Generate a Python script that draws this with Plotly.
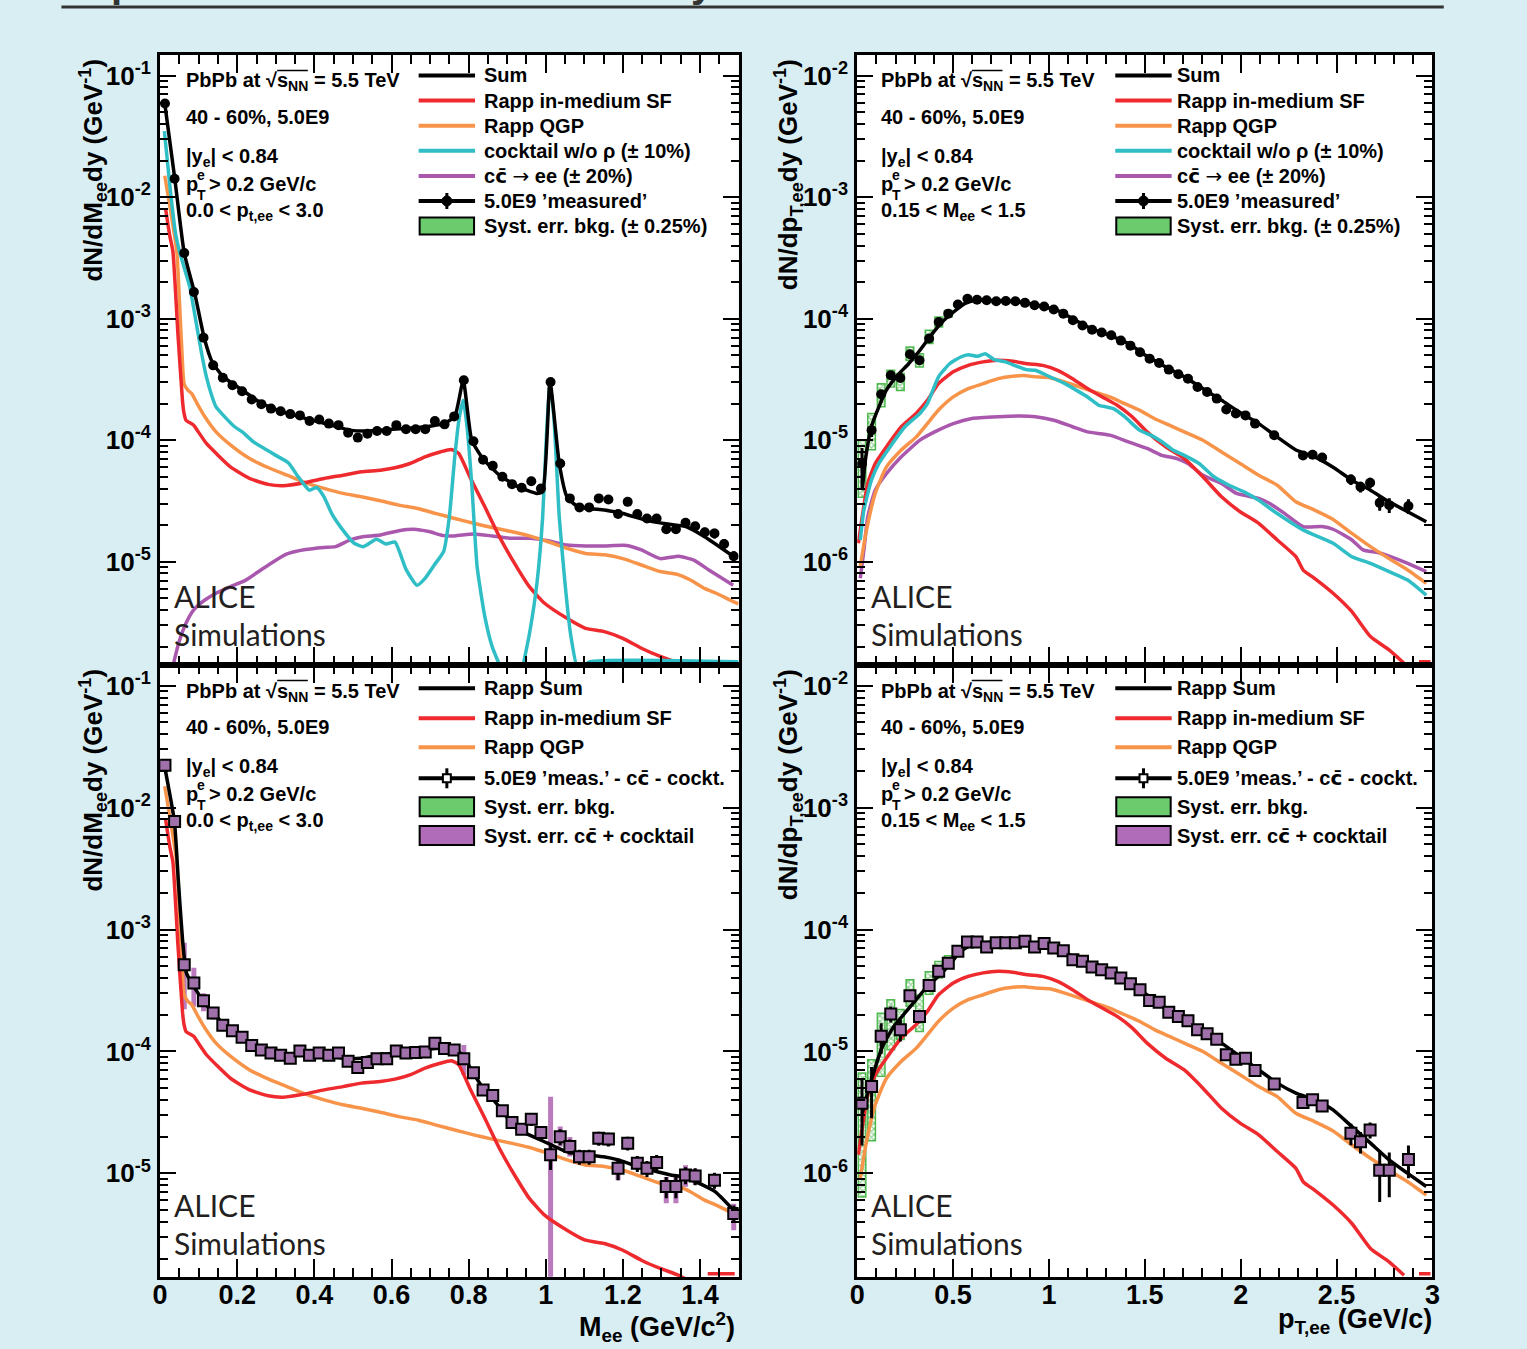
import plotly.graph_objects as go

W, H = 1527, 1349

# ======================= DATA =======================
mass_bins = [0.0125, 0.0375, 0.0625, 0.0875, 0.1125, 0.1375, 0.1625, 0.1875, 0.2125, 0.2375,
             0.2625, 0.2875, 0.3125, 0.3375, 0.3625, 0.3875, 0.4125, 0.4375, 0.4625, 0.4875,
             0.5125, 0.5375, 0.5625, 0.5875, 0.6125, 0.6375, 0.6625, 0.6875, 0.7125, 0.7375,
             0.7625, 0.7875, 0.8125, 0.8375, 0.8625, 0.8875, 0.9125, 0.9375, 0.9625, 0.9875,
             1.0125, 1.0375, 1.0625, 1.0875, 1.1125, 1.1375, 1.1625, 1.1875, 1.2125, 1.2375,
             1.2625, 1.2875, 1.3125, 1.3375, 1.3625, 1.3875, 1.4125, 1.4375, 1.4625, 1.4875]
pt_bins = [0.025, 0.075, 0.125, 0.175, 0.225, 0.275, 0.325, 0.375, 0.425, 0.475,
           0.525, 0.575, 0.625, 0.675, 0.725, 0.775, 0.825, 0.875, 0.925, 0.975,
           1.025, 1.075, 1.125, 1.175, 1.225, 1.275, 1.325, 1.375, 1.425, 1.475,
           1.525, 1.575, 1.625, 1.675, 1.725, 1.775, 1.825, 1.875, 1.925, 1.975,
           2.025, 2.075, 2.125, 2.175, 2.225, 2.275, 2.325, 2.375, 2.425, 2.475,
           2.525, 2.575, 2.625, 2.675, 2.725, 2.775, 2.825, 2.875, 2.925, 2.975]

# --- top-left: invariant mass, 'measured' and components ---
meas_mass = [5.9e-2, 1.42e-2, 3.47e-3, 1.66e-3, 6.98e-4, 4.13e-4, 3.27e-4, 2.83e-4, 2.53e-4, 2.16e-4,
             1.98e-4, 1.82e-4, 1.73e-4, 1.64e-4, 1.60e-4, 1.44e-4, 1.48e-4, 1.37e-4, 1.33e-4, 1.15e-4,
             1.05e-4, 1.13e-4, 1.19e-4, 1.19e-4, 1.33e-4, 1.23e-4, 1.23e-4, 1.23e-4, 1.44e-4, 1.35e-4,
             1.57e-4, 3.11e-4, 9.8e-5, 6.9e-5, 6.15e-5, 5.0e-5, 4.35e-5, 4.06e-5, 4.6e-5, 4.0e-5,
             3.01e-4, 6.43e-5, 3.32e-5, 2.80e-5, 2.80e-5, 3.32e-5, 3.25e-5, 2.47e-5, 3.11e-5, 2.47e-5,
             2.27e-5, 2.27e-5, 1.85e-5, 1.85e-5, 2.09e-5, 1.96e-5, 1.75e-5, 1.71e-5, 1.4e-5, 1.11e-5]
meas_mass_stat = [0.02, 0.02, 0.02, 0.02, 0.02, 0.02, 0.02, 0.02, 0.02, 0.02,
                  0.02, 0.02, 0.02, 0.02, 0.02, 0.02, 0.02, 0.02, 0.02, 0.02,
                  0.03, 0.03, 0.03, 0.03, 0.03, 0.03, 0.03, 0.03, 0.03, 0.03,
                  0.03, 0.02, 0.04, 0.04, 0.05, 0.05, 0.05, 0.05, 0.05, 0.05,
                  0.02, 0.05, 0.06, 0.06, 0.06, 0.06, 0.06, 0.07, 0.07, 0.07,
                  0.07, 0.07, 0.08, 0.08, 0.08, 0.08, 0.09, 0.09, 0.10, 0.10]
sum_mass_x = [0.012, 0.038, 0.0625, 0.09, 0.114, 0.135, 0.164, 0.213, 0.261, 0.309, 0.377, 0.435,
              0.493, 0.532, 0.590, 0.668, 0.735, 0.764, 0.786, 0.808, 0.837, 0.880, 0.929, 0.977,
              0.992, 1.011, 1.035, 1.055, 1.084, 1.152, 1.200, 1.258, 1.316, 1.365, 1.413, 1.486]
sum_mass_y = [5.9e-2, 1.42e-2, 3.47e-3, 1.6e-3, 7.0e-4, 4.4e-4, 3.32e-4, 2.58e-4, 2.03e-4, 1.74e-4,
              1.51e-4, 1.35e-4, 1.21e-4, 1.19e-4, 1.22e-4, 1.27e-4, 1.37e-4, 1.57e-4, 3.08e-4, 1.0e-4,
              7.06e-5, 5.15e-5, 4.13e-5, 3.65e-5, 3.76e-5, 3.01e-4, 6.43e-5, 3.42e-5, 2.83e-5, 2.66e-5,
              2.49e-5, 2.2e-5, 2.04e-5, 1.94e-5, 1.60e-5, 1.11e-5]
rapp_sf_mass_x = [0.014, 0.025, 0.033, 0.046, 0.058, 0.062, 0.067, 0.087, 0.096, 0.120, 0.145, 0.183,
                  0.232, 0.280, 0.319, 0.377, 0.425, 0.474, 0.522, 0.571, 0.609, 0.648, 0.687, 0.726,
                  0.755, 0.774, 0.803, 0.842, 0.880, 0.919, 0.958, 0.997, 1.055, 1.103, 1.152, 1.200,
                  1.248, 1.297, 1.345, 1.374, 1.395, 1.42, 1.49]
rapp_sf_mass_y = [8.1e-3, 4.8e-3, 3.6e-3, 7.6e-4, 2.1e-4, 1.66e-4, 1.46e-4, 1.33e-4, 1.21e-4, 9.4e-5,
                  7.8e-5, 6.0e-5, 4.84e-5, 4.33e-5, 4.22e-5, 4.49e-5, 4.84e-5, 5.15e-5, 5.5e-5, 5.66e-5,
                  5.93e-5, 6.43e-5, 7.3e-5, 8.0e-5, 8.4e-5, 7.8e-5, 5.0e-5, 2.83e-5, 1.60e-5, 9.7e-6,
                  6.2e-6, 4.55e-6, 3.42e-6, 2.83e-6, 2.66e-6, 2.34e-6, 1.94e-6, 1.66e-6, 1.46e-6, 1.3e-6,
                  None, 1.5e-6, 1.5e-6]
rapp_qgp_mass_x = [0.012, 0.043, 0.050, 0.0575, 0.062, 0.072, 0.082, 0.096, 0.116, 0.145, 0.183, 0.232,
                   0.280, 0.329, 0.377, 0.425, 0.474, 0.522, 0.571, 0.619, 0.668, 0.716, 0.764, 0.813,
                   0.861, 0.910, 0.958, 1.006, 1.055, 1.103, 1.152, 1.200, 1.248, 1.297, 1.345, 1.374,
                   1.413, 1.442, 1.486, 1.5]
rapp_qgp_mass_y = [1.5e-2, 3.6e-3, 1.41e-3, 4.6e-4, 2.92e-4, 2.58e-4, 2.42e-4, 2.0e-4, 1.56e-4, 1.17e-4,
                   9.1e-5, 7.06e-5, 5.96e-5, 5.15e-5, 4.46e-5, 4.01e-5, 3.65e-5, 3.42e-5, 3.17e-5, 2.92e-5,
                   2.74e-5, 2.49e-5, 2.27e-5, 2.07e-5, 1.91e-5, 1.77e-5, 1.63e-5, 1.46e-5, 1.29e-5, 1.17e-5,
                   1.14e-5, 1.06e-5, 9.4e-6, 8.3e-6, 7.8e-6, 7.1e-6, 6.0e-6, 5.5e-6, 4.7e-6, 4.5e-6]
cocktail_mass_x = [0.011, 0.025, 0.040, 0.050, 0.062, 0.077, 0.091, 0.106, 0.120, 0.135, 0.145, 0.164,
                   0.193, 0.213, 0.242, 0.271, 0.300, 0.333, 0.358, 0.387, 0.406, 0.425, 0.445, 0.474,
                   0.503, 0.527, 0.561, 0.585, 0.609, 0.638, 0.666, 0.687, 0.711, 0.735, 0.750, 0.764,
                   0.776, 0.786, 0.795, 0.808, 0.822, 0.842, 0.861, 0.885, 0.91, 0.939, 0.958, 0.977,
                   0.992, 1.002, 1.011, 1.021, 1.035, 1.050, 1.064, 1.084, 1.113, 1.5]
cocktail_mass_y = [3.5e-2, 1.26e-2, 5.0e-3, 3.6e-3, 2.66e-3, 1.82e-3, 1.03e-3, 5.5e-4, 3.32e-4, 2.27e-4,
                   1.88e-4, 1.60e-4, 1.29e-4, 1.17e-4, 9.7e-5, 8.5e-5, 7.5e-5, 6.5e-5, 5.0e-5, 3.88e-5,
                   4.08e-5, 3.42e-5, 2.49e-5, 1.82e-5, 1.42e-5, 1.33e-5, 1.53e-5, 1.40e-5, 1.45e-5, 8.6e-6,
                   6.4e-6, 7.3e-6, 9.4e-6, 1.21e-5, 2.34e-5, 7.3e-5, 1.56e-4, 2.13e-4, 1.37e-4, 4.4e-5,
                   9.1e-6, 3.53e-6, 2.0e-6, 1.3e-6, None, 1.3e-6, 2.58e-6, 6.6e-6, 2.34e-5, 1.13e-4,
                   2.92e-4, 1.56e-4, 2.34e-5, 6.6e-6, 2.58e-6, 1.3e-6, 1.5e-6, 1.5e-6]
ccbar_mass_x = [0.034, 0.048, 0.067, 0.087, 0.116, 0.145, 0.183, 0.222, 0.261, 0.300, 0.329, 0.377,
                0.425, 0.455, 0.493, 0.522, 0.571, 0.619, 0.658, 0.697, 0.735, 0.764, 0.813, 0.861,
                0.910, 0.958, 1.006, 1.055, 1.103, 1.152, 1.210, 1.248, 1.297, 1.345, 1.384, 1.423,
                1.452, 1.486]
ccbar_mass_y = [1.42e-6, 2.13e-6, 3.11e-6, 4.01e-6, 4.84e-6, 5.5e-6, 6.24e-6, 7.06e-6, 8.55e-6, 1.03e-5,
                1.16e-5, 1.26e-5, 1.31e-5, 1.33e-5, 1.51e-5, 1.60e-5, 1.66e-5, 1.80e-5, 1.85e-5, 1.77e-5,
                1.64e-5, 1.63e-5, 1.69e-5, 1.63e-5, 1.56e-5, 1.56e-5, 1.49e-5, 1.37e-5, 1.35e-5, 1.35e-5,
                1.36e-5, 1.25e-5, 1.06e-5, 1.11e-5, 1.03e-5, 8.55e-6, 7.5e-6, 6.4e-6]

# --- top-right: pair pT, 'measured' and components ---
meas_pt = [6.4e-6, 1.21e-5, 2.39e-5, 3.42e-5, 3.25e-5, 5.09e-5, 4.55e-5, 6.86e-5, 9.4e-5, 1.10e-4,
           1.31e-4, 1.46e-4, 1.43e-4, 1.42e-4, 1.39e-4, 1.40e-4, 1.39e-4, 1.35e-4, 1.29e-4, 1.26e-4,
           1.19e-4, 1.10e-4, 9.7e-5, 8.8e-5, 8.1e-5, 7.7e-5, 7.3e-5, 6.6e-5, 6.0e-5, 5.3e-5,
           4.69e-5, 4.32e-5, 3.81e-5, 3.49e-5, 3.21e-5, 2.74e-5, 2.49e-5, 2.2e-5, 1.79e-5, 1.66e-5,
           1.60e-5, 1.37e-5, None, 1.10e-5, None, None, 7.5e-6, 7.6e-6, 7.2e-6, None,
           None, 4.75e-6, 4.13e-6, 4.46e-6, 3.05e-6, 2.92e-6, None, 2.87e-6, None, None]
meas_pt_stat = [0.35, 0.12, 0.08, 0.06, 0.06, 0.05, 0.05, 0.04, 0.03, 0.03,
                0.02, 0.02, 0.02, 0.02, 0.02, 0.02, 0.02, 0.02, 0.02, 0.02,
                0.02, 0.02, 0.02, 0.02, 0.02, 0.02, 0.03, 0.03, 0.03, 0.03,
                0.03, 0.03, 0.03, 0.03, 0.04, 0.04, 0.04, 0.04, 0.05, 0.05,
                0.05, 0.05, 0.06, 0.06, 0.06, 0.07, 0.07, 0.07, 0.08, 0.08,
                0.08, 0.10, 0.10, 0.10, 0.14, 0.14, 0.13, 0.14, 0.15, 0.15]
meas_pt_bkg_up = [0.56, 0.37, 0.22, 0.10, 0.09, 0.15, 0.13, 0.17, 0.10, 0.06,
                  0.03, 0.03, 0.03, 0.03, 0.03, 0.03, 0.03, 0.03, 0.03, 0.03,
                  0.03, 0.03, 0.03, 0.03, 0.03, 0.03, 0.03, 0.03, 0.03, 0.03,
                  0.03, 0.03, 0.03, 0.03, 0.03, 0.03, 0.03, 0.03, 0.03, 0.03,
                  0.03, 0.03, 0.03, 0.03, 0.03, 0.03, 0.03, 0.03, 0.03, 0.03,
                  0.03, 0.03, 0.03, 0.03, 0.03, 0.03, 0.03, 0.03, 0.03, 0.03]
meas_pt_bkg_dn = [0.47, 0.31, 0.21, 0.20, 0.21, 0.11, 0.12, 0.09, 0.09, 0.06,
                  0.03, 0.03, 0.03, 0.03, 0.03, 0.03, 0.03, 0.03, 0.03, 0.03,
                  0.03, 0.03, 0.03, 0.03, 0.03, 0.03, 0.03, 0.03, 0.03, 0.03,
                  0.03, 0.03, 0.03, 0.03, 0.03, 0.03, 0.03, 0.03, 0.03, 0.03,
                  0.03, 0.03, 0.03, 0.03, 0.03, 0.03, 0.03, 0.03, 0.03, 0.03,
                  0.03, 0.03, 0.03, 0.03, 0.03, 0.03, 0.03, 0.03, 0.03, 0.03]
sum_pt_x = [0.026, 0.045, 0.074, 0.113, 0.152, 0.210, 0.268, 0.327, 0.385, 0.443, 0.501, 0.560,
            0.618, 0.735, 0.851, 0.968, 1.045, 1.123, 1.220, 1.317, 1.414, 1.512, 1.609, 1.706,
            1.803, 1.900, 1.997, 2.094, 2.191, 2.288, 2.385, 2.482, 2.580, 2.677, 2.774, 2.871, 2.968]
sum_pt_y = [3.88e-6, 7.3e-6, 1.29e-5, 1.88e-5, 2.58e-5, 3.42e-5, 4.26e-5, 5.5e-5, 7.3e-5, 9.4e-5,
            1.13e-4, 1.33e-4, 1.42e-4, 1.40e-4, 1.37e-4, 1.26e-4, 1.17e-4, 1.0e-4, 8.3e-5, 7.3e-5,
            6.24e-5, 4.9e-5, 4.01e-5, 3.32e-5, 2.66e-5, 2.13e-5, 1.69e-5, 1.37e-5, 1.06e-5, 8.3e-6,
            7.3e-6, 6.0e-6, 4.69e-6, 3.88e-6, 3.11e-6, 2.58e-6, 2.13e-6]
rapp_sf_pt_x = [0.006, 0.026, 0.055, 0.094, 0.152, 0.230, 0.307, 0.366, 0.424, 0.501, 0.579, 0.657,
                0.735, 0.812, 0.890, 0.968, 1.045, 1.123, 1.201, 1.278, 1.356, 1.434, 1.512, 1.609,
                1.706, 1.803, 1.900, 1.997, 2.094, 2.191, 2.288, 2.327, 2.385, 2.482, 2.580, 2.677,
                2.774, 2.852, 2.9, 2.93, 2.99]
rapp_sf_pt_y = [1.42e-6, 2.34e-6, 4.41e-6, 6.43e-6, 8.8e-6, 1.29e-5, 1.66e-5, 2.13e-5, 2.92e-5, 3.65e-5,
                4.13e-5, 4.41e-5, 4.55e-5, 4.46e-5, 4.26e-5, 4.13e-5, 3.76e-5, 3.21e-5, 2.66e-5, 2.27e-5,
                1.94e-5, 1.56e-5, 1.17e-5, 8.8e-6, 7.06e-6, 5.0e-6, 3.42e-6, 2.58e-6, 2.07e-6, 1.51e-6,
                1.1e-6, 8.5e-7, 7.3e-7, 5.5e-7, 3.88e-7, 2.42e-7, 1.88e-7, 1.46e-7, None, 1.5e-7,
                1.5e-7]
rapp_qgp_pt_x = [0.016, 0.045, 0.094, 0.152, 0.230, 0.307, 0.366, 0.424, 0.501, 0.579, 0.657, 0.735,
                 0.812, 0.870, 0.929, 1.006, 1.084, 1.162, 1.240, 1.317, 1.395, 1.472, 1.550, 1.628,
                 1.706, 1.803, 1.900, 1.997, 2.094, 2.191, 2.288, 2.385, 2.482, 2.580, 2.677, 2.774,
                 2.871, 2.968]
rapp_qgp_pt_y = [9.1e-7, 1.71e-6, 3.65e-6, 6.0e-6, 8.3e-6, 1.06e-5, 1.37e-5, 1.77e-5, 2.27e-5, 2.66e-5,
                 2.92e-5, 3.21e-5, 3.36e-5, 3.40e-5, 3.32e-5, 3.27e-5, 3.01e-5, 2.74e-5, 2.49e-5, 2.27e-5,
                 2.0e-5, 1.77e-5, 1.51e-5, 1.33e-5, 1.17e-5, 1.0e-5, 8.0e-6, 6.43e-6, 5.15e-6, 4.26e-6,
                 3.11e-6, 2.66e-6, 2.23e-6, 1.71e-6, 1.33e-6, 1.06e-6, 8.55e-7, 6.64e-7]
cocktail_pt_x = [0.016, 0.035, 0.074, 0.113, 0.171, 0.249, 0.327, 0.366, 0.424, 0.482, 0.540, 0.579,
                 0.628, 0.667, 0.715, 0.773, 0.832, 0.880, 0.929, 1.006, 1.084, 1.142, 1.201, 1.259,
                 1.298, 1.336, 1.395, 1.472, 1.531, 1.589, 1.647, 1.706, 1.783, 1.861, 1.939, 2.017,
                 2.094, 2.191, 2.327, 2.482, 2.580, 2.677, 2.774, 2.871, 2.968]
cocktail_pt_y = [1.51e-6, 2.66e-6, 4.69e-6, 6.43e-6, 8.8e-6, 1.29e-5, 1.66e-5, 2.0e-5, 3.32e-5, 4.26e-5,
                 4.84e-5, 5.06e-5, 4.9e-5, 5.15e-5, 4.6e-5, 4.41e-5, 4.06e-5, 3.81e-5, 3.76e-5, 3.32e-5,
                 2.92e-5, 2.58e-5, 2.27e-5, 1.94e-5, 1.88e-5, 1.82e-5, 1.56e-5, 1.21e-5, 1.10e-5, 9.7e-6,
                 8.3e-6, 7.5e-6, 6.43e-6, 5.0e-6, 4.26e-6, 3.76e-6, 3.21e-6, 2.49e-6, 1.82e-6, 1.42e-6,
                 1.1e-6, 9.7e-7, 8.3e-7, 7.06e-7, 5.3e-7]
ccbar_pt_x = [0.016, 0.035, 0.055, 0.094, 0.152, 0.230, 0.327, 0.404, 0.501, 0.598, 0.735, 0.851,
              0.929, 1.026, 1.123, 1.201, 1.317, 1.414, 1.512, 1.589, 1.667, 1.725, 1.803, 1.900,
              1.978, 2.094, 2.152, 2.230, 2.327, 2.424, 2.482, 2.580, 2.638, 2.716, 2.774, 2.871, 2.968]
ccbar_pt_y = [7.3e-7, 1.25e-6, 2.34e-6, 3.88e-6, 5.3e-6, 7.3e-6, 1.0e-5, 1.17e-5, 1.37e-5, 1.51e-5,
              1.56e-5, 1.58e-5, 1.56e-5, 1.46e-5, 1.29e-5, 1.17e-5, 1.10e-5, 9.7e-6, 8.55e-6, 7.5e-6,
              7.06e-6, 6.43e-6, 5.15e-6, 4.41e-6, 3.65e-6, 3.32e-6, 3.01e-6, 2.49e-6, 1.94e-6, 1.95e-6,
              1.85e-6, 1.51e-6, 1.25e-6, 1.19e-6, 1.11e-6, 9.7e-7, 8.3e-7]

# --- bottom-left: excess (meas. - ccbar - cocktail) vs mass ---
excess_mass = [2.23e-2, 7.7e-3, 5.15e-4, 3.65e-4, 2.61e-4, 2.07e-4, 1.64e-4, 1.48e-4, 1.31e-4, 1.12e-4,
               1.03e-4, 9.7e-5, 9.3e-5, 8.8e-5, 1.01e-4, 9.3e-5, 9.7e-5, 9.3e-5, 9.7e-5, 8.3e-5,
               7.4e-5, 8.1e-5, 8.7e-5, 8.7e-5, 1.01e-4, 9.7e-5, 9.8e-5, 9.9e-5, 1.17e-4, 1.06e-4,
               1.03e-4, 8.7e-5, 6.7e-5, 4.84e-5, 4.35e-5, 3.27e-5, 2.62e-5, 2.30e-5, 2.78e-5, 2.16e-5,
               1.42e-5, 2.0e-5, 1.66e-5, 1.37e-5, 1.37e-5, 1.94e-5, 1.91e-5, 1.10e-5, 1.77e-5, 1.21e-5,
               1.10e-5, 1.23e-5, 7.8e-6, 7.8e-6, 9.7e-6, 9.5e-6, None, 8.8e-6, None, 4.69e-6]
excess_mass_stat = [0.03, 0.03, 0.04, 0.04, 0.04, 0.04, 0.04, 0.04, 0.04, 0.04,
                    0.04, 0.04, 0.04, 0.04, 0.04, 0.04, 0.04, 0.04, 0.04, 0.04,
                    0.05, 0.05, 0.05, 0.05, 0.05, 0.05, 0.05, 0.05, 0.05, 0.05,
                    0.05, 0.05, 0.06, 0.07, 0.08, 0.09, 0.10, 0.10, 0.12, 0.12,
                    0.25, 0.15, 0.14, 0.14, 0.14, 0.13, 0.13, 0.20, 0.13, 0.15,
                    0.15, 0.15, 0.20, 0.20, 0.16, 0.16, 0.16, 0.15, 0.16, 0.16]
excess_mass_cc_up = [0.08, 0.08, 0.51, 0.33, 0.15, 0.10, 0.08, 0.08, 0.08, 0.08,
                     0.08, 0.08, 0.08, 0.08, 0.08, 0.08, 0.08, 0.08, 0.08, 0.08,
                     0.08, 0.08, 0.08, 0.08, 0.08, 0.08, 0.08, 0.08, 0.08, 0.08,
                     0.08, 0.30, 0.10, 0.08, 0.08, 0.08, 0.08, 0.08, 0.08, 0.08,
                     2.00, 0.21, 0.20, 0.12, 0.12, 0.12, 0.12, 0.15, 0.12, 0.12,
                     0.12, 0.12, 0.20, 0.20, 0.20, 0.15, 0.12, 0.12, 0.12, 0.20]
excess_mass_cc_dn = [0.08, 0.08, 0.57, 0.36, 0.18, 0.12, 0.08, 0.08, 0.08, 0.08,
                     0.08, 0.08, 0.08, 0.08, 0.08, 0.08, 0.08, 0.08, 0.08, 0.08,
                     0.08, 0.08, 0.08, 0.08, 0.08, 0.08, 0.08, 0.08, 0.08, 0.08,
                     0.08, 0.26, 0.10, 0.08, 0.08, 0.08, 0.08, 0.08, 0.08, 0.08,
                     0.90, 0.17, 0.17, 0.12, 0.12, 0.12, 0.12, 0.20, 0.12, 0.12,
                     0.12, 0.12, 0.27, 0.27, 0.20, 0.15, 0.12, 0.12, 0.12, 0.27]
rappsum_mass_x = [0.011, 0.037, 0.047, 0.058, 0.068, 0.087, 0.116, 0.145, 0.184, 0.232, 0.280, 0.329,
                  0.377, 0.425, 0.473, 0.522, 0.570, 0.618, 0.667, 0.715, 0.754, 0.773, 0.792, 0.812,
                  0.841, 0.879, 0.918, 0.957, 1.005, 1.053, 1.101, 1.150, 1.188, 1.227, 1.275, 1.324,
                  1.362, 1.401, 1.440, 1.483]
rappsum_mass_y = [2.23e-2, 7.7e-3, 2.58e-3, 8.3e-4, 4.41e-4, 3.42e-4, 2.49e-4, 1.94e-4, 1.51e-4, 1.17e-4,
                  1.0e-4, 9.4e-5, 9.6e-5, 9.4e-5, 8.8e-5, 8.8e-5, 9.4e-5, 9.7e-5, 1.02e-4, 1.06e-4,
                  1.06e-4, 1.0e-4, 8.55e-5, 6.64e-5, 4.84e-5, 3.53e-5, 2.42e-5, 2.07e-5, 1.77e-5, 1.51e-5,
                  1.42e-5, 1.37e-5, 1.29e-5, 1.17e-5, 1.06e-5, 9.7e-6, 9.3e-6, 8.2e-6, 7.06e-6, 5.15e-6]

# --- bottom-right: excess vs pT ---
excess_pt = [3.76e-6, 5.15e-6, 1.33e-5, 2.03e-5, 1.51e-5, 2.87e-5, 1.94e-5, 3.47e-5, 4.55e-5, 5.3e-5,
             6.64e-5, 7.9e-5, 7.9e-5, 7.2e-5, 7.8e-5, 7.8e-5, 7.8e-5, 8.0e-5, 7.2e-5, 7.7e-5,
             7.06e-5, 6.7e-5, 5.66e-5, 5.5e-5, 4.93e-5, 4.69e-5, 4.41e-5, 4.01e-5, 3.6e-5, 3.21e-5,
             2.62e-5, 2.53e-5, 2.1e-5, 1.94e-5, 1.79e-5, 1.51e-5, 1.40e-5, 1.26e-5, 9.4e-6, 8.65e-6,
             8.8e-6, 6.98e-6, None, 5.42e-6, None, None, 3.81e-6, 4.01e-6, 3.57e-6, None,
             None, 2.13e-6, 1.82e-6, 2.27e-6, 1.06e-6, 1.06e-6, None, 1.30e-6, None, None]
excess_pt_stat = [0.55, 0.45, 0.28, 0.15, 0.20, 0.10, 0.12, 0.08, 0.06, 0.05,
                  0.03, 0.03, 0.03, 0.03, 0.03, 0.03, 0.03, 0.03, 0.03, 0.03,
                  0.03, 0.03, 0.03, 0.03, 0.03, 0.03, 0.03, 0.03, 0.03, 0.03,
                  0.04, 0.04, 0.04, 0.04, 0.05, 0.05, 0.05, 0.05, 0.06, 0.06,
                  0.07, 0.07, 0.08, 0.08, 0.08, 0.09, 0.09, 0.10, 0.10, 0.10,
                  0.12, 0.20, 0.20, 0.15, 0.45, 0.40, 0.30, 0.30, 0.30, 0.30]
excess_pt_bkg_up = [0.77, 0.66, 0.55, 0.31, 0.46, 0.35, 0.50, 0.30, 0.20, 0.15,
                    0.10, 0.08, 0.04, 0.04, 0.04, 0.04, 0.04, 0.04, 0.04, 0.04,
                    0.04, 0.04, 0.04, 0.04, 0.04, 0.04, 0.04, 0.04, 0.04, 0.04,
                    0.04, 0.04, 0.04, 0.04, 0.04, 0.04, 0.04, 0.04, 0.04, 0.04,
                    0.04, 0.04, 0.04, 0.04, 0.04, 0.04, 0.04, 0.04, 0.04, 0.04,
                    0.04, 0.04, 0.04, 0.04, 0.04, 0.04, 0.04, 0.04, 0.04, 0.04]
excess_pt_bkg_dn = [0.83, 0.64, 0.53, 0.49, 0.17, 0.18, 0.25, 0.15, 0.12, 0.08,
                    0.08, 0.06, 0.04, 0.04, 0.04, 0.04, 0.04, 0.04, 0.04, 0.04,
                    0.04, 0.04, 0.04, 0.04, 0.04, 0.04, 0.04, 0.04, 0.04, 0.04,
                    0.04, 0.04, 0.04, 0.04, 0.04, 0.04, 0.04, 0.04, 0.04, 0.04,
                    0.04, 0.04, 0.04, 0.04, 0.04, 0.04, 0.04, 0.04, 0.04, 0.04,
                    0.04, 0.04, 0.04, 0.04, 0.04, 0.04, 0.04, 0.04, 0.04, 0.04]
excess_pt_cc = [0.06, 0.06, 0.06, 0.06, 0.06, 0.06, 0.06, 0.06, 0.06, 0.06,
                0.06, 0.06, 0.06, 0.06, 0.06, 0.06, 0.06, 0.06, 0.06, 0.06,
                0.06, 0.06, 0.06, 0.06, 0.06, 0.06, 0.06, 0.06, 0.06, 0.06,
                0.06, 0.06, 0.06, 0.06, 0.06, 0.06, 0.06, 0.06, 0.06, 0.06,
                0.06, 0.06, 0.06, 0.06, 0.06, 0.06, 0.06, 0.06, 0.06, 0.06,
                0.06, 0.06, 0.06, 0.06, 0.06, 0.06, 0.06, 0.06, 0.06, 0.06]
rappsum_pt_x = [0.026, 0.074, 0.132, 0.191, 0.249, 0.307, 0.366, 0.424, 0.482, 0.540, 0.598, 0.657,
                0.773, 0.890, 0.968, 1.045, 1.123, 1.220, 1.317, 1.414, 1.511, 1.609, 1.706, 1.803,
                1.900, 1.997, 2.094, 2.191, 2.288, 2.385, 2.482, 2.580, 2.677, 2.774, 2.871, 2.968]
rappsum_pt_y = [3.11e-6, 5.85e-6, 1.10e-5, 1.60e-5, 2.07e-5, 2.66e-5, 3.42e-5, 4.13e-5, 5.15e-5, 6.64e-5,
                7.5e-5, 7.8e-5, 7.9e-5, 7.8e-5, 7.5e-5, 7.06e-5, 6.04e-5, 5.15e-5, 4.41e-5, 3.65e-5,
                2.92e-5, 2.27e-5, 1.82e-5, 1.46e-5, 1.17e-5, 9.1e-6, 7.06e-6, 5.5e-6, 4.55e-6, 4.01e-6,
                3.32e-6, 2.42e-6, 1.77e-6, 1.29e-6, 1.0e-6, 7.8e-7]

# ======================= STYLE =======================
BG = '#d8eef3'
RED, ORANGE, CYAN, PURPLE = '#ee2a2e', '#f7944a', '#30bec6', '#aa57ae'
GREEN = '#1f9f1f'
SQFILL = '#9f70aa'
FONT = 'Liberation Sans'
LW = 3.5

fig = go.Figure()

def curve(xs, ys, color, ax, width=LW):
    fig.add_trace(go.Scatter(x=xs, y=ys, mode='lines', xaxis='x' + ax, yaxis='y' + ax,
                             line=dict(color=color, width=width, shape='spline', smoothing=0.5),
                             connectgaps=False, hoverinfo='skip'))

def syst_boxes(bins, vals, up, dn, ax, width):
    xs, base, size = [], [], []
    for b, v, u, d in zip(bins, vals, up, dn):
        if v is None:
            continue
        xs.append(b); base.append(v * (1 - d)); size.append(v * (u + d))
    fig.add_trace(go.Bar(x=xs, y=size, base=base, width=width, xaxis='x' + ax, yaxis='y' + ax,
                         marker=dict(color='white', line=dict(width=1.5, color='rgba(40,170,40,0.8)'),
                                     pattern=dict(shape='x', fgcolor=GREEN, size=4, solidity=0.55)),
                         hoverinfo='skip'))

def syst_bars(bins, vals, up, dn, ax, color, thick):
    xs, ys, ea, em = [], [], [], []
    for b, v, u, d in zip(bins, vals, up, dn):
        if v is None:
            continue
        xs.append(b); ys.append(v); ea.append(v * u); em.append(v * d)
    fig.add_trace(go.Scatter(x=xs, y=ys, mode='markers', xaxis='x' + ax, yaxis='y' + ax,
                             marker=dict(size=1, color='rgba(0,0,0,0)'),
                             error_y=dict(type='data', symmetric=False, array=ea, arrayminus=em,
                                          color=color, thickness=thick, width=0),
                             hoverinfo='skip'))

def points(bins, vals, stat, ax, symbol, size, color, line_w):
    xs, ys, es = [], [], []
    for b, v, s in zip(bins, vals, stat):
        if v is None:
            continue
        xs.append(b); ys.append(v); es.append(v * s)
    fig.add_trace(go.Scatter(x=xs, y=ys, mode='markers', xaxis='x' + ax, yaxis='y' + ax,
                             marker=dict(symbol=symbol, size=size, color=color,
                                         line=dict(color='black', width=line_w)),
                             error_y=dict(type='data', array=es, color='black', thickness=3, width=0),
                             hoverinfo='skip'))

# --- top-left ---
curve(ccbar_mass_x, ccbar_mass_y, PURPLE, '')
curve(rapp_qgp_mass_x, rapp_qgp_mass_y, ORANGE, '')
curve(rapp_sf_mass_x, rapp_sf_mass_y, RED, '')
curve(cocktail_mass_x, cocktail_mass_y, CYAN, '')
curve(sum_mass_x, sum_mass_y, 'black', '')
points(mass_bins, meas_mass, meas_mass_stat, '', 'circle', 10, 'black', 0)

# --- top-right ---
syst_boxes(pt_bins, meas_pt, meas_pt_bkg_up, meas_pt_bkg_dn, '2', 0.04)
curve(ccbar_pt_x, ccbar_pt_y, PURPLE, '2')
curve(rapp_qgp_pt_x, rapp_qgp_pt_y, ORANGE, '2')
curve(rapp_sf_pt_x, rapp_sf_pt_y, RED, '2')
curve(cocktail_pt_x, cocktail_pt_y, CYAN, '2')
curve(sum_pt_x, sum_pt_y, 'black', '2')
points(pt_bins, meas_pt, meas_pt_stat, '2', 'circle', 10, 'black', 0)

# --- bottom-left ---
syst_bars(mass_bins, excess_mass, excess_mass_cc_up, excess_mass_cc_dn, '3', 'rgba(170,87,174,0.8)', 5)
curve(rapp_qgp_mass_x, rapp_qgp_mass_y, ORANGE, '3')
curve(rapp_sf_mass_x, rapp_sf_mass_y, RED, '3')
curve(rappsum_mass_x, rappsum_mass_y, 'black', '3')
points(mass_bins, excess_mass, excess_mass_stat, '3', 'square', 11, SQFILL, 2)

# --- bottom-right ---
syst_boxes(pt_bins, excess_pt, excess_pt_bkg_up, excess_pt_bkg_dn, '4', 0.04)
syst_bars(pt_bins, excess_pt, excess_pt_cc, excess_pt_cc, '4', 'rgba(170,87,174,0.8)', 5)
curve(rapp_qgp_pt_x, rapp_qgp_pt_y, ORANGE, '4')
curve(rapp_sf_pt_x, rapp_sf_pt_y, RED, '4')
curve(rappsum_pt_x, rappsum_pt_y, 'black', '4')
points(pt_bins, excess_pt, excess_pt_stat, '4', 'square', 11, SQFILL, 2)

# ======================= AXES =======================
LX = [153.75 / W, 738.3 / W]
RX = [858.2 / W, 1439.5 / W]
TY = [1 - 665 / H, 1 - 55 / H]
BY = [1 - 1277 / H, 1 - 665 / H]

def minor_vals(lo, hi):
    return [k * 10.0 ** n for n in range(lo, hi) for k in range(2, 10)]

def yax(domain, rng, decades, anchor):
    return dict(type='log', domain=domain, range=rng, anchor=anchor,
                tickvals=[10.0 ** d for d in decades],
                ticktext=['10<sup>%d</sup>' % d for d in decades],
                ticks='inside', ticklen=16, tickwidth=2, tickcolor='black',
                showline=True, linewidth=3, linecolor='black', mirror='ticks',
                showgrid=False, zeroline=False, ticklabelstandoff=1,
                tickfont=dict(family=FONT, size=26, color='black', weight=700),
                minor=dict(tickvals=minor_vals(-8, 0), ticks='inside', ticklen=8,
                           tickwidth=2, tickcolor='black', showgrid=False))

def xax(domain, rng, dtick, mdtick, anchor, labels):
    return dict(domain=domain, range=rng, anchor=anchor, tick0=0, dtick=dtick,
                ticks='inside', ticklen=18, tickwidth=2, tickcolor='black',
                showline=True, linewidth=3, linecolor='black', mirror='ticks',
                showgrid=False, zeroline=False, showticklabels=labels, ticklabelstandoff=-8,
                tickfont=dict(family=FONT, size=27, color='black', weight=700),
                minor=dict(dtick=mdtick, tick0=0, ticks='inside', ticklen=9, tickwidth=2,
                           tickcolor='black', showgrid=False))

fig.update_layout(
    width=W, height=H, margin=dict(l=0, r=0, t=0, b=0),
    paper_bgcolor=BG, plot_bgcolor='white', showlegend=False, barmode='overlay',
    xaxis=xax(LX, [0, 1.5], 0.2, 0.05, 'y', False),
    yaxis=yax(TY, [-5.85, -0.83], [-5, -4, -3, -2, -1], 'x'),
    xaxis2=xax(RX, [0, 3], 0.5, 0.1, 'y2', False),
    yaxis2=yax(TY, [-6.85, -1.83], [-6, -5, -4, -3, -2], 'x2'),
    xaxis3=xax(LX, [0, 1.5], 0.2, 0.05, 'y3', True),
    yaxis3=yax(BY, [-5.85, -0.83], [-5, -4, -3, -2, -1], 'x3'),
    xaxis4=xax(RX, [0, 3], 0.5, 0.1, 'y4', True),
    yaxis4=yax(BY, [-6.85, -1.83], [-6, -5, -4, -3, -2], 'x4'),
)

# ======================= TEXT / LEGENDS =======================
def ann(x, y, text, size=20, xanchor='left', yanchor='middle', weight=700, family=FONT,
        color='black', angle=0):
    fig.add_annotation(x=x / W, y=1 - y / H, xref='paper', yref='paper', text=text,
                       showarrow=False, xanchor=xanchor, yanchor=yanchor, textangle=angle,
                       borderpad=0, font=dict(family=family, size=size, color=color, weight=weight))

def pline(x0, y0, x1, y1, color='black', width=LW):
    fig.add_shape(type='line', xref='paper', yref='paper', x0=x0 / W, y0=1 - y0 / H,
                  x1=x1 / W, y1=1 - y1 / H, line=dict(color=color, width=width))

def prect(x0, y0, x1, y1, fill, lw=2):
    fig.add_shape(type='rect', xref='paper', yref='paper', x0=x0 / W, y0=1 - y0 / H,
                  x1=x1 / W, y1=1 - y1 / H, line=dict(color='black', width=lw), fillcolor=fill)

def pcircle(cx, cy, r, fill):
    fig.add_shape(type='circle', xref='paper', yref='paper', x0=(cx - r) / W, y0=1 - (cy + r) / H,
                  x1=(cx + r) / W, y1=1 - (cy - r) / H, line=dict(color='black', width=1), fillcolor=fill)

CBAR = "<span style=\"font-family:'DejaVu Sans'\">c\u0304</span>"
ARROW = "<span style=\"font-family:'DejaVu Sans';font-weight:normal\">\u2192</span>"

for px0, py0, mlabel in [(0, 0, 'm'), (702, 0, 'p'), (0, 610, 'm'), (702, 610, 'p')]:
    tx = 179 + px0
    ann(tx, 82 + py0, 'PbPb at \u221as<sub>NN</sub> = 5.5 TeV')
    pline(tx + 93, 70.5 + py0, tx + 124, 70.5 + py0, 'black', 1.5)
    ann(tx, 117 + py0, '40 - 60%, 5.0E9')
    ann(tx, 157 + py0, '|y<sub>e</sub>| < 0.84')
    ann(tx, 184 + py0, 'p')
    ann(tx + 11, 175 + py0, 'e', size=14)
    ann(tx + 11, 195 + py0, 'T', size=14)
    ann(tx + 23, 184 + py0, '> 0.2 GeV/c')
    if mlabel == 'm':
        ann(tx, 212 + py0, '0.0 < p<sub>t,ee</sub> < 3.0')
    else:
        ann(tx, 212 + py0, '0.15 < M<sub>ee</sub> < 1.5')
    ax0 = 167 + (704 if px0 else 0)
    ann(ax0, 596 + (609 if py0 else 0), 'ALICE', size=30, weight=400, family='Lato', color='#231f20')
    ann(ax0, 634 + (609 if py0 else 0), 'Simulations', size=30, weight=400, family='Lato', color='#231f20')

# top legends
for lx0, tx0 in [(415, 480), (1119, 1180)]:
    rows = [75.5, 100.6, 125.7, 150.8, 175.9, 201.0, 226.1]
    labels = ['Sum', 'Rapp in-medium SF', 'Rapp QGP', 'cocktail w/o \u03c1 (\u00b1 10%)',
              'c' + CBAR + ' ' + ARROW + ' ee (\u00b1 20%)', '5.0E9 \u2019measured\u2019',
              'Syst. err. bkg. (\u00b1 0.25%)']
    cols = ['black', RED, ORANGE, CYAN, PURPLE]
    for i, c in enumerate(cols):
        pline(lx0, rows[i], lx0 + 57, rows[i], c, 4)
    pline(lx0, rows[5], lx0 + 57, rows[5], 'black', 4)
    pline(lx0 + 28.5, rows[5] - 8, lx0 + 28.5, rows[5] + 8, 'black', 3)
    pcircle(lx0 + 28.5, rows[5], 5, 'black')
    prect(lx0 + 1, rows[6] - 8.5, lx0 + 56, rows[6] + 8.5, '#6ccb6c')
    for r, t in zip(rows, labels):
        ann(tx0, r, t)

# bottom legends
for lx0, tx0 in [(415, 480), (1119, 1180)]:
    rows = [688.3, 718.3, 747.3, 778.3, 806.7, 835.5]
    labels = ['Rapp Sum', 'Rapp in-medium SF', 'Rapp QGP',
              '5.0E9 \u2019meas.\u2019 - c' + CBAR + ' - cockt.', 'Syst. err. bkg.',
              'Syst. err. c' + CBAR + ' + cocktail']
    for i, c in enumerate(['black', RED, ORANGE]):
        pline(lx0, rows[i], lx0 + 57, rows[i], c, 4)
    pline(lx0, rows[3], lx0 + 57, rows[3], 'black', 4)
    pline(lx0 + 28.5, rows[3] - 10, lx0 + 28.5, rows[3] + 10, 'black', 3)
    prect(lx0 + 24.5, rows[3] - 4, lx0 + 32.5, rows[3] + 4, '#ffffff', 2)
    prect(lx0 + 1, rows[4] - 9.5, lx0 + 56, rows[4] + 9.5, '#6ccb6c')
    prect(lx0 + 1, rows[5] - 9.5, lx0 + 56, rows[5] + 9.5, '#b06cb8')
    for r, t in zip(rows, labels):
        ann(tx0, r, t)

# axis titles
for yt in [58, 668]:
    ann(85, yt, 'dN/dM<sub>ee</sub>dy (GeV<sup>-1</sup>)', size=26, xanchor='center', yanchor='top', angle=-90)
    ann(788, yt, 'dN/dp<sub>T,ee</sub>dy (GeV<sup>-1</sup>)', size=26, xanchor='center', yanchor='top', angle=-90)
ann(736, 1327, 'M<sub>ee</sub> (GeV/c<sup>2</sup>)', size=27, xanchor='right')
ann(1440, 1321, 'p<sub>T,ee</sub> (GeV/c)', size=27, xanchor='right')

# page header (cut off at the top of the page)
ann(54, 6, 'Expectations for 40-60% centrality collisions', size=40, yanchor='bottom', color='#333333')
pline(54, 7, 1451, 7, '#333333', 3)

fig.write_html('out.html')
